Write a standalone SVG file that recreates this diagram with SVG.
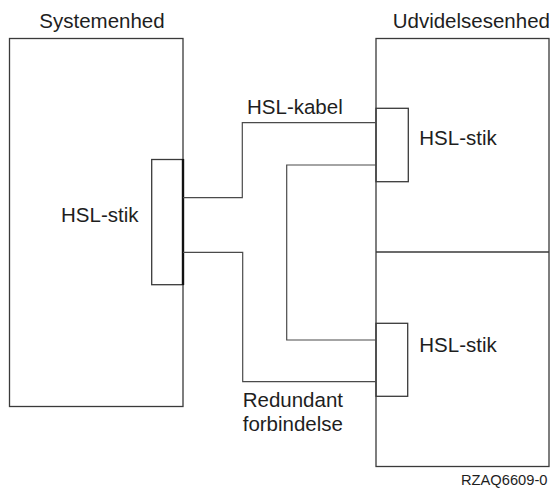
<svg xmlns="http://www.w3.org/2000/svg" width="553" height="488" viewBox="0 0 553 488">
<style>
  .box { fill: none; stroke: #3a3a3a; stroke-width: 1.3; }
  .wire { fill: none; stroke: #4a4a4a; stroke-width: 1.2; }
  .bold { fill: none; stroke: #111; stroke-width: 2.4; }
  text { font-family: "Liberation Sans", Arial, sans-serif; font-size: 20.5px; fill: #1e1e1e; }
  .small { font-size: 14.7px; }
</style>
<rect width="553" height="488" fill="#fff"/>
<g id="systemenhed">
  <rect class="box" x="9.5" y="38.5" width="173.5" height="368"/>
  <text x="39.3" y="27.5">Systemenhed</text>
</g>
<g id="hsl-stik-system">
  <rect class="box" x="151.7" y="159.5" width="31.3" height="125.2"/>
  <line class="bold" x1="183" y1="159" x2="183" y2="285"/>
  <text x="61" y="221.7">HSL-stik</text>
</g>
<g id="udvidelsesenhed">
  <rect class="box" x="376" y="38.5" width="173" height="428"/>
  <line class="box" x1="376" y1="252" x2="549" y2="252"/>
  <text x="392.7" y="28">Udvidelsesenhed</text>
</g>
<g id="hsl-stik-top">
  <rect class="box" x="376" y="108.3" width="32.3" height="73.4"/>
  <text x="419.3" y="145">HSL-stik</text>
</g>
<g id="hsl-stik-bottom">
  <rect class="box" x="376" y="323.3" width="31.7" height="73"/>
  <text x="419.3" y="352.3">HSL-stik</text>
</g>
<g id="connectors">
  <polyline class="wire" points="183,197.7 242.3,197.7 242.3,122.7 376,122.7"/>
  <polyline class="wire" points="376,165 286.7,165 286.7,340 376,340"/>
  <polyline class="wire" points="183,252.3 242.7,252.3 242.7,381.7 376,381.7"/>
</g>
<g id="labels">
  <text x="247" y="113.5">HSL-kabel</text>
  <text x="242.7" y="407.3">Redundant</text>
  <text x="242.7" y="430.7">forbindelse</text>
  <text class="small" x="547.5" y="485" text-anchor="end">RZAQ6609-0</text>
</g>
</svg>
